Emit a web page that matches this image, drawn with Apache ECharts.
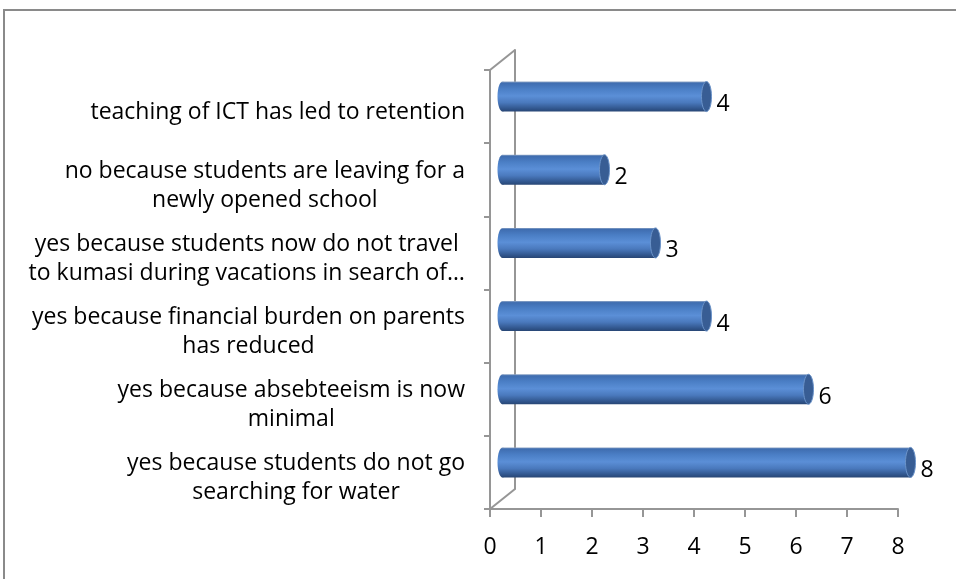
<!DOCTYPE html>
<html>
<head>
<meta charset="utf-8">
<script src="https://cdn.jsdelivr.net/npm/echarts@6/dist/echarts.min.js"></script>
<style>
html,body{margin:0;padding:0;background:#fff;}
#c{width:956px;height:579px;}
</style>
</head>
<body>
<div id="c"></div>
<script>
// ---- data ----
const categories = [
  'yes because students do not go\nsearching for water',
  'yes because absebteeism is now\nminimal',
  'yes because financial burden on parents\nhas reduced',
  'yes because students now do not travel\nto kumasi during vacations in search of…',
  'no because students are leaving for a\nnewly opened school',
  'teaching of ICT has led to retention'
];
const values = [8, 6, 4, 3, 2, 4];
const xMin = 0, xMax = 8, xStep = 1;

// ---- layout ----
const FONT = '"Open Sans"';
const FS = 23;
const AXIS_COLOR = '#969696';
const front = {left: 490, right: 58, top: 70, bottom: 70};
const depth = {dx: 25, dy: -20};
const back = {left: front.left + depth.dx, right: front.right - depth.dx, top: front.top + depth.dy, bottom: front.bottom - depth.dy};
const mid = {left: front.left + depth.dx / 2, right: front.right - depth.dx / 2, top: front.top + depth.dy / 2, bottom: front.bottom - depth.dy / 2};
const W = 956, H = 579;

const chart = echarts.init(document.getElementById('c'), null, {renderer: 'canvas'});

function bodyGradient() {
  return new echarts.graphic.LinearGradient(0, 0, 0, 1, [
    {offset: 0, color: '#8fa6c6'},
    {offset: 0.05, color: '#3f6db0'},
    {offset: 0.25, color: '#4b7fc6'},
    {offset: 0.48, color: '#5b8fd7'},
    {offset: 0.7, color: '#4a79bd'},
    {offset: 0.92, color: '#2f5389'},
    {offset: 1, color: '#284674'}
  ]);
}

function renderCylinder(params, api) {
  const v = api.value(0);
  const idx = api.value(1);
  const p0 = api.coord([0, idx]);
  const p1 = api.coord([v, idx]);
  const band = api.size([0, 1])[1];
  const h = band * 0.41;
  const rx = 5;
  const y = p0[1] - h / 2;
  return {
    type: 'group',
    children: [
      {type: 'ellipse', shape: {cx: p0[0], cy: p0[1], rx: rx, ry: h / 2}, style: {fill: bodyGradient()}},
      {type: 'rect', shape: {x: p0[0], y: y, width: p1[0] - p0[0], height: h}, style: {fill: bodyGradient()}},
      {type: 'ellipse', shape: {cx: p1[0], cy: p1[1], rx: rx, ry: h / 2},
        style: {fill: '#385d94', stroke: '#6b93c9', lineWidth: 1}},
      {type: 'text', style: {text: String(v), x: p1[0] + rx + 5, y: p1[1] + 8,
        textAlign: 'left', textVerticalAlign: 'middle', fill: '#000', fontSize: FS, fontFamily: FONT}}
    ]
  };
}

const option = {
  backgroundColor: '#ffffff',
  animation: false,
  grid: [
    Object.assign({containLabel: false}, front),
    Object.assign({containLabel: false}, back),
    Object.assign({containLabel: false}, mid)
  ],
  xAxis: [
    {
      type: 'value', gridIndex: 0, min: xMin, max: xMax, interval: xStep,
      axisLine: {show: true, lineStyle: {color: AXIS_COLOR, width: 2}},
      axisTick: {show: true, length: 8, lineStyle: {color: AXIS_COLOR, width: 2}},
      axisLabel: {color: '#000', fontSize: FS, fontFamily: FONT, margin: 27},
      splitLine: {show: false}
    },
    {type: 'value', gridIndex: 1, min: xMin, max: xMax, show: false},
    {type: 'value', gridIndex: 2, min: xMin, max: xMax, show: false}
  ],
  yAxis: [
    {
      type: 'category', gridIndex: 0, data: categories,
      axisLine: {show: true, lineStyle: {color: AXIS_COLOR, width: 2}},
      axisTick: {show: true, length: 6, lineStyle: {color: AXIS_COLOR, width: 2}},
      axisLabel: {
        interval: 0, hideOverlap: false, margin: 25, align: 'right',
        padding: [12, 0, 0, 0],
        formatter: function (val) {
          return val.split('\n').map(function (s) { return '{c|' + s + '}'; }).join('\n');
        },
        rich: {c: {align: 'center', fontSize: FS, fontFamily: FONT, color: '#000', lineHeight: 29}}
      },
      splitLine: {show: false}
    },
    {
      type: 'category', gridIndex: 1, data: categories,
      axisLine: {show: true, lineStyle: {color: AXIS_COLOR, width: 2}},
      axisTick: {show: false}, axisLabel: {show: false}, splitLine: {show: false}
    },
    {type: 'category', gridIndex: 2, data: categories, show: false}
  ],
  graphic: [
    {type: 'rect', shape: {x: 4, y: 10, width: 2000, height: 2000}, style: {fill: 'none', stroke: '#8a8a8a', lineWidth: 2}, z: 100},
    {type: 'line', shape: {x1: front.left, y1: front.top, x2: back.left, y2: back.top}, style: {stroke: AXIS_COLOR, lineWidth: 2}, z: 1},
    {type: 'line', shape: {x1: front.left, y1: H - front.bottom, x2: back.left, y2: H - back.bottom}, style: {stroke: AXIS_COLOR, lineWidth: 2}, z: 1}
  ],
  series: [
    {
      type: 'custom', xAxisIndex: 2, yAxisIndex: 2,
      renderItem: renderCylinder,
      encode: {x: 0, y: 1},
      data: values.map(function (v, i) { return [v, i]; }),
      z: 10
    }
  ]
};
chart.setOption(option);
</script>
</body>
</html>
